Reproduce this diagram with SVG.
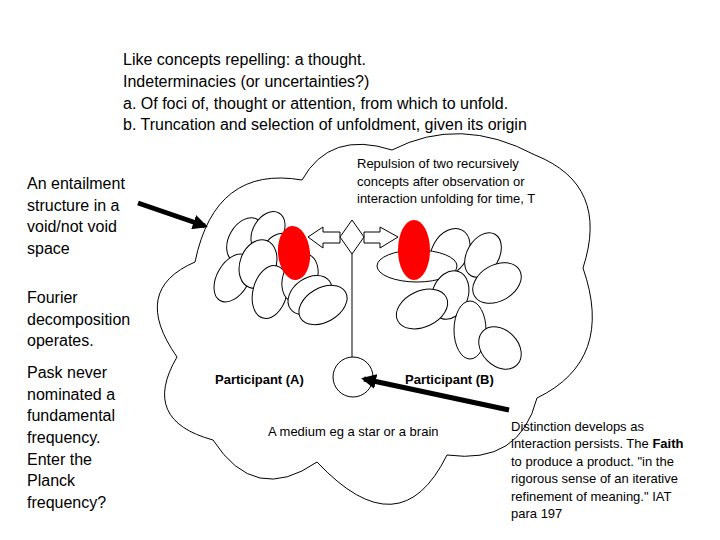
<svg xmlns="http://www.w3.org/2000/svg" width="720" height="540" viewBox="0 0 720 540">
<defs>
<style>
text{font-family:"Liberation Sans",Arial,sans-serif;fill:#000}
.big{font-size:16px}
.sm{font-size:13px}
.b{font-weight:bold}
.ln{fill:none;stroke:#000;stroke-width:1}
.el{fill:#fff;stroke:#000;stroke-width:1}
.red{fill:#f00;stroke:none}
.thick{stroke:#000;stroke-width:5;fill:none}
</style>
<marker id="ah" viewBox="0 0 10 10" refX="8" refY="5" markerWidth="3" markerHeight="3" orient="auto"><path d="M0,0L10,5L0,10z" fill="#000"/></marker>
</defs>
<rect width="720" height="540" fill="#fff"/>
<g id="cloud">
<path class="ln" d="M195,262 Q215,165 302,180 Q330,130 392,150 Q460,115 535,155 Q610,185 583,268 Q615,360 537,398 Q520,465 447,455 Q400,550 317,462 Q255,505 213,440 Q140,420 177,357 Q130,290 195,262 Z"/>
</g>
<g id="participantA">
<ellipse class="el" cx="245" cy="240" rx="16" ry="24" transform="rotate(30 245 240)"/>
<ellipse class="el" cx="268" cy="232" rx="15" ry="22" transform="rotate(30 268 232)"/>
<ellipse class="el" cx="280" cy="255" rx="18" ry="22" transform="rotate(20 280 255)"/>
<ellipse class="el" cx="233" cy="278" rx="16" ry="26" transform="rotate(30 233 278)"/>
<ellipse class="el" cx="258" cy="264" rx="18" ry="25" transform="rotate(20 258 264)"/>
<ellipse class="el" cx="270" cy="292" rx="17" ry="27" transform="rotate(15 270 292)"/>
<ellipse class="el" cx="300" cy="278" rx="17" ry="25" transform="rotate(20 300 278)"/>
<ellipse class="el" cx="310" cy="295" rx="24" ry="17" transform="rotate(-35 310 295)"/>
<ellipse class="el" cx="323" cy="305" rx="26" ry="17" transform="rotate(-30 323 305)"/>
<ellipse class="red" cx="294" cy="253" rx="16" ry="27" transform="rotate(-5 294 253)"/>
</g>
<g id="participantB">
<ellipse class="el" cx="450" cy="252" rx="18" ry="25" transform="rotate(30 450 252)"/>
<ellipse class="el" cx="483" cy="255" rx="16" ry="24" transform="rotate(30 483 255)"/>
<ellipse class="el" cx="417" cy="266" rx="40" ry="16"/>
<ellipse class="el" cx="450" cy="295" rx="18" ry="25" transform="rotate(20 450 295)"/>
<ellipse class="el" cx="497" cy="283" rx="26" ry="18" transform="rotate(-30 497 283)"/>
<ellipse class="el" cx="422" cy="309" rx="27" ry="18" transform="rotate(-25 422 309)"/>
<ellipse class="el" cx="470" cy="330" rx="16" ry="29"/>
<ellipse class="el" cx="500" cy="348" rx="24" ry="18" transform="rotate(45 500 348)"/>
<ellipse class="red" cx="414" cy="250" rx="16" ry="30"/>
</g>
<g id="repulsion">
<path class="el" d="M308,237 L323,227 L323,232 L340,232 L340,243 L323,243 L323,248 Z"/>
<path class="el" d="M398,237 L380,227 L380,232 L364,232 L364,243 L380,243 L380,248 Z"/>
<path class="el" d="M352,220 L364,237 L352,254 L340,237 Z"/>
</g>
<g id="medium">
<circle class="el" cx="353" cy="377" r="20"/>
</g>
<g id="connectors">
<line class="ln" x1="352" y1="254" x2="352" y2="357"/>
<line class="thick" x1="138" y1="203" x2="205" y2="226" marker-end="url(#ah)"/>
<line class="thick" x1="509" y1="410" x2="364" y2="379" marker-end="url(#ah)"/>
</g>
<g id="labels">
<text class="big" x="123" y="65">Like concepts repelling: a thought.</text>
<text class="big" x="123" y="87">Indeterminacies (or uncertainties?)</text>
<text class="big" x="123" y="109">a. Of foci of, thought or attention, from which to unfold.</text>
<text class="big" x="123" y="130">b. Truncation and selection of unfoldment, given its origin</text>
<text class="big" x="27" y="189">An entailment</text>
<text class="big" x="27" y="211">structure in a</text>
<text class="big" x="27" y="232">void/not void</text>
<text class="big" x="27" y="254">space</text>
<text class="big" x="27" y="303">Fourier</text>
<text class="big" x="27" y="325">decomposition</text>
<text class="big" x="27" y="346">operates.</text>
<text class="big" x="27" y="378">Pask never</text>
<text class="big" x="27" y="400">nominated a</text>
<text class="big" x="27" y="421">fundamental</text>
<text class="big" x="27" y="443">frequency.</text>
<text class="big" x="27" y="465">Enter the</text>
<text class="big" x="27" y="486">Planck</text>
<text class="big" x="27" y="508">frequency?</text>
<text class="sm" x="357" y="168">Repulsion of two recursively</text>
<text class="sm" x="357" y="186">concepts after observation or</text>
<text class="sm" x="357" y="203">interaction unfolding for time, T</text>
<text class="sm b" x="215" y="384">Participant (A)</text>
<text class="sm b" x="405" y="384">Participant (B)</text>
<text class="sm" x="268" y="436">A medium eg a star or a brain</text>
<text class="sm" x="511" y="431">Distinction develops as</text>
<text class="sm" x="511" y="448">interaction persists. The <tspan class="b">Faith</tspan></text>
<text class="sm" x="511" y="466">to produce a product. "in the</text>
<text class="sm" x="511" y="483">rigorous sense of an iterative</text>
<text class="sm" x="511" y="501">refinement of meaning." IAT</text>
<text class="sm" x="511" y="518">para 197</text>
</g>
</svg>
